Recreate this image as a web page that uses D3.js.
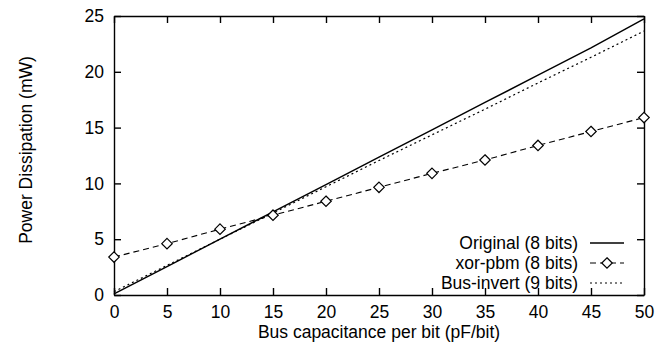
<!DOCTYPE html>
<html>
<head>
<meta charset="utf-8">
<script src="https://cdn.jsdelivr.net/npm/d3@7"></script>
<style>
body { margin: 0; background: #fff; }
text { font-family: "Liberation Sans", Arial, sans-serif; fill: #000; }
</style>
</head>
<body>
<svg id="chart" width="664" height="346"></svg>
<script>
// bus capacitance per bit (pF/bit)
var capacitance = [0, 5, 10, 15, 20, 25, 30, 35, 40, 45, 50];
// power dissipation (mW)
var original = [0.1, 2.55, 5.0, 7.45, 9.9, 12.35, 14.8, 17.25, 19.7, 22.15, 24.75];
var xorPbm = [3.4, 4.6, 5.9, 7.15, 8.4, 9.65, 10.9, 12.1, 13.4, 14.65, 15.9];
var busInvert = [0.3, 2.65, 5.0, 7.35, 9.7, 12.05, 14.35, 16.65, 19.0, 21.3, 23.65];

var seriesNames = ["Original (8 bits)", "xor-pbm (8 bits)", "Bus-invert (9 bits)"];
var xTicks = [0, 5, 10, 15, 20, 25, 30, 35, 40, 45, 50];
var yTicks = [0, 5, 10, 15, 20, 25];

var fontSize = "17.5px";

var margin = {top: 16, right: 20, bottom: 51, left: 114},
    width = 664 - margin.left - margin.right,
    height = 346 - margin.top - margin.bottom;

var svg = d3.select("#chart")
  .append("g")
    .attr("transform", "translate(" + margin.left + "," + margin.top + ")");

var x = d3.scaleLinear().domain([0, 50]).range([0, width]);
var y = d3.scaleLinear().domain([0, 25]).range([height, 0]);

// axes with ticks pointing inward, mirrored on top and right
svg.append("g")
    .attr("transform", "translate(0," + height + ")")
    .call(d3.axisBottom(x).tickValues(xTicks).tickSizeInner(-7).tickSizeOuter(0).tickPadding(11))
    .call(g => g.selectAll("text").style("font-size", fontSize));

svg.append("g")
    .call(d3.axisLeft(y).tickValues(yTicks).tickSizeInner(-7).tickSizeOuter(0).tickPadding(10))
    .call(g => g.selectAll("text").style("font-size", fontSize));

svg.append("g")
    .call(d3.axisTop(x).tickValues(xTicks).tickSizeInner(-7).tickSizeOuter(0).tickFormat(""));

svg.append("g")
    .attr("transform", "translate(" + width + ",0)")
    .call(d3.axisRight(y).tickValues(yTicks).tickSizeInner(-7).tickSizeOuter(0).tickFormat(""));

svg.selectAll(".domain").attr("stroke", "#000").attr("stroke-width", 1.4);
svg.selectAll(".tick line").attr("stroke", "#000").attr("stroke-width", 1.4);

// axis labels
svg.append("text")
    .attr("x", width / 2)
    .attr("y", height + 43)
    .attr("text-anchor", "middle")
    .style("font-size", fontSize)
    .text("Bus capacitance per bit (pF/bit)");

svg.append("text")
    .attr("transform", "rotate(-90)")
    .attr("x", -134)
    .attr("y", -margin.left + 32)
    .attr("text-anchor", "middle")
    .style("font-size", fontSize)
    .text("Power Dissipation (mW)");

var line = d3.line()
    .x(function(d, i) { return x(capacitance[i]); })
    .y(function(d) { return y(d); });

// Original
svg.append("path")
    .datum(original)
    .attr("d", line)
    .attr("fill", "none")
    .attr("stroke", "#000")
    .attr("stroke-width", 1.4);

// Bus-invert
svg.append("path")
    .datum(busInvert)
    .attr("d", line)
    .attr("fill", "none")
    .attr("stroke", "#000")
    .attr("stroke-width", 1.2)
    .attr("stroke-dasharray", "2,3");

// xor-pbm
svg.append("path")
    .datum(xorPbm)
    .attr("d", line)
    .attr("fill", "none")
    .attr("stroke", "#000")
    .attr("stroke-width", 1.1)
    .attr("stroke-dasharray", "6,4");

var diamond = d3.symbol().type(d3.symbolDiamond2).size(70);

svg.selectAll(".pt")
    .data(xorPbm)
    .enter().append("path")
    .attr("class", "pt")
    .attr("d", diamond)
    .attr("transform", function(d, i) { return "translate(" + x(capacitance[i]) + "," + y(d) + ")"; })
    .attr("fill", "#fff")
    .attr("stroke", "#000")
    .attr("stroke-width", 1.2);

// legend
var legX = 464, legY = 227, legStep = 20;
var legend = svg.append("g");
seriesNames.forEach(function(name, i) {
  var yy = legY + i * legStep;
  legend.append("text")
      .attr("x", legX)
      .attr("y", yy)
      .attr("dy", "0.35em")
      .attr("text-anchor", "end")
      .style("font-size", fontSize)
      .text(name);
  var ln = legend.append("line")
      .attr("x1", legX + 12)
      .attr("x2", legX + 46)
      .attr("y1", yy)
      .attr("y2", yy)
      .attr("stroke", "#000");
  if (i == 0) ln.attr("stroke-width", 1.4);
  if (i == 1) {
    ln.attr("stroke-width", 1.1).attr("stroke-dasharray", "6,4");
    legend.append("path")
        .attr("d", diamond)
        .attr("transform", "translate(" + (legX + 29) + "," + yy + ")")
        .attr("fill", "#fff")
        .attr("stroke", "#000")
        .attr("stroke-width", 1.2);
  }
  if (i == 2) ln.attr("stroke-width", 1).attr("stroke-dasharray", "2,3");
});
</script>
</body>
</html>
